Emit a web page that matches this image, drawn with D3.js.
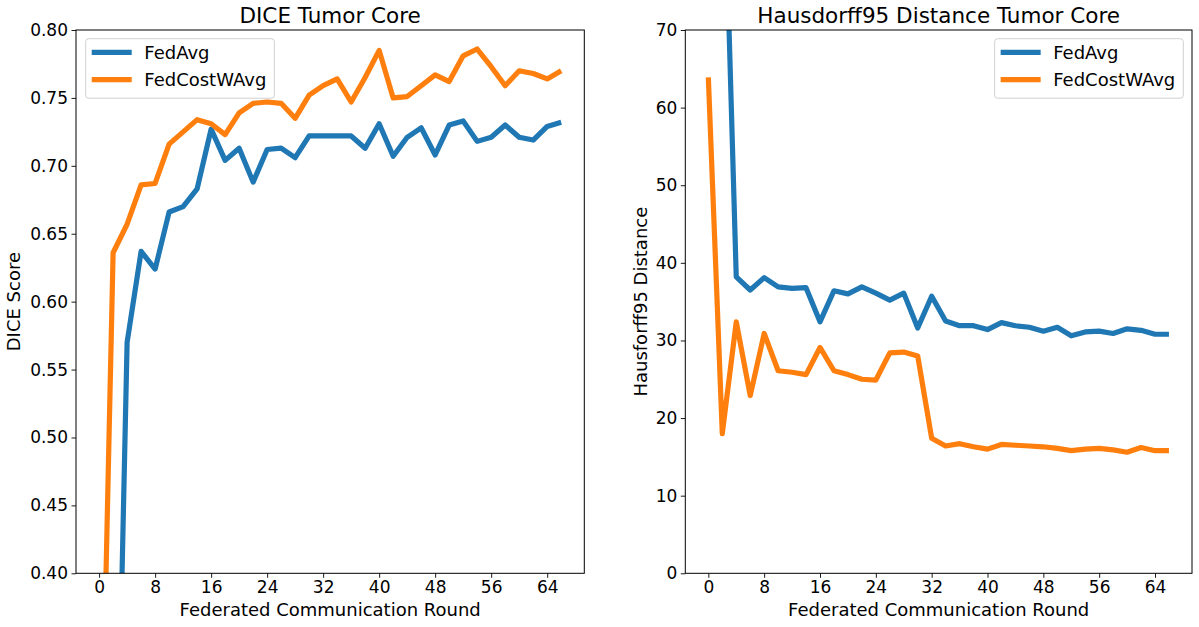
<!DOCTYPE html>
<html>
<head>
<meta charset="utf-8">
<script src="https://cdn.jsdelivr.net/npm/d3@7"></script>
<style>
  body { margin: 0; background: #fff; }
  svg { display: block; font-family: "DejaVu Sans", sans-serif; }
</style>
</head>
<body>
<div id="chart"></div>
<script>
// rounds of federated training (every 2nd round)
var rounds = [0, 2, 4, 6, 8, 10, 12, 14, 16, 18, 20, 22, 24, 26, 28, 30, 32,
    34, 36, 38, 40, 42, 44, 46, 48, 50, 52, 54, 56, 58, 60, 62, 64, 66]

var diceFedAvg = [0.05, 0.10, 0.570, 0.637, 0.624, 0.666, 0.670, 0.683, 0.727, 0.704,
    0.713, 0.688, 0.712, 0.713, 0.706, 0.722, 0.722, 0.722, 0.722, 0.713, 0.731, 0.707,
    0.721, 0.728, 0.708, 0.730, 0.733, 0.718, 0.721, 0.730, 0.721, 0.719, 0.729, 0.732]
var diceFedCostWAvg = [0.17, 0.636, 0.657, 0.686, 0.687, 0.716, 0.725, 0.734, 0.731, 0.723,
    0.739, 0.746, 0.747, 0.746, 0.735, 0.752, 0.759, 0.764, 0.747, 0.765, 0.785, 0.750,
    0.751, 0.759, 0.767, 0.762, 0.781, 0.786, 0.773, 0.759, 0.770, 0.768, 0.764, 0.770]

var hdFedAvg = [110, 100, 38.2, 36.5, 38.1, 36.9, 36.7, 36.8, 32.4, 36.4, 36.0, 36.9,
    36.1, 35.2, 36.1, 31.6, 35.7, 32.5, 31.9, 31.9, 31.4, 32.3, 31.9, 31.7, 31.2, 31.7,
    30.6, 31.1, 31.2, 30.9, 31.5, 31.3, 30.8, 30.8]
var hdFedCostWAvg = [63.9, 18.0, 32.4, 22.9, 30.9, 26.1, 25.9, 25.6, 29.1, 26.1, 25.6,
    25.0, 24.9, 28.4, 28.5, 28.0, 17.4, 16.4, 16.7, 16.3, 16.0, 16.6, 16.5, 16.4, 16.3,
    16.1, 15.8, 16.0, 16.1, 15.9, 15.6, 16.2, 15.8, 15.8]

var xTicks = [0, 8, 16, 24, 32, 40, 48, 56, 64]
var diceTicks = [0.40, 0.45, 0.50, 0.55, 0.60, 0.65, 0.70, 0.75, 0.80]
var hdTicks = [0, 10, 20, 30, 40, 50, 60, 70]
var seriesNames = ["FedAvg", "FedCostWAvg"]

const colors = ["#1f77b4", "#ff7f0e"]
const width = 1199, height = 627
const plotTop = 30, plotBottom = 573.3

const svg = d3.select("#chart").append("svg")
    .attr("width", width)
    .attr("height", height)

function panel(opts) {
    const x = d3.scaleLinear().domain([-3.3, 69.3]).range([opts.left, opts.right])
    const y = d3.scaleLinear().domain(opts.yDomain).range([plotBottom, plotTop])
    const g = svg.append("g")

    g.append("clipPath").attr("id", opts.id)
        .append("rect")
        .attr("x", opts.left).attr("y", plotTop)
        .attr("width", opts.right - opts.left).attr("height", plotBottom - plotTop)

    // lines
    const line = d3.line().x((d, i) => x(rounds[i])).y(d => y(d))
    opts.series.forEach((s, k) => {
        g.append("path")
            .datum(s)
            .attr("clip-path", `url(#${opts.id})`)
            .attr("fill", "none")
            .attr("stroke", colors[k])
            .attr("stroke-width", 5.2)
            .attr("stroke-linejoin", "round")
            .attr("d", line)
    })

    // axes
    const xAxis = g.append("g")
        .attr("transform", `translate(0,${plotBottom})`)
        .call(d3.axisBottom(x).tickValues(xTicks).tickSize(4.5).tickPadding(3.5))
    const yAxis = g.append("g")
        .attr("transform", `translate(${opts.left},0)`)
        .call(d3.axisLeft(y).tickValues(opts.yTicks).tickFormat(opts.fmt).tickSize(4.5).tickPadding(3.5))
    for (const a of [xAxis, yAxis]) {
        a.select(".domain").remove()
        a.selectAll("text").attr("font-size", 17).attr("fill", "#000")
            .attr("font-family", "DejaVu Sans")
        a.selectAll("line").attr("stroke", "#000").attr("stroke-width", 0.9)
    }

    // frame
    g.append("rect")
        .attr("x", opts.left).attr("y", plotTop)
        .attr("width", opts.right - opts.left).attr("height", plotBottom - plotTop)
        .attr("fill", "none").attr("stroke", "#000").attr("stroke-width", 1)

    g.append("text")
        .attr("x", (opts.left + opts.right) / 2).attr("y", 22.5)
        .attr("text-anchor", "middle").attr("font-size", 21.5)
        .text(opts.title)

    g.append("text")
        .attr("x", (opts.left + opts.right) / 2).attr("y", 615.5)
        .attr("text-anchor", "middle").attr("font-size", 18)
        .text("Federated Communication Round")

    g.append("text")
        .attr("transform", `translate(${opts.ylabelX},${(plotTop + plotBottom) / 2}) rotate(-90)`)
        .attr("text-anchor", "middle").attr("dy", "0.35em").attr("font-size", 18)
        .text(opts.ylabel)

    // legend
    const lg = g.append("g")
    const box = lg.append("rect")
        .attr("fill", "#fff").attr("fill-opacity", 0.8)
        .attr("stroke", "#d0d0d0").attr("stroke-width", 1)
        .attr("rx", 3)
    let textW = 0
    seriesNames.forEach((name, k) => {
        const yy = 13.7 + k * 27.3
        lg.append("line")
            .attr("x1", 6).attr("x2", 46).attr("y1", yy).attr("y2", yy)
            .attr("stroke", colors[k]).attr("stroke-width", 5.2)
        const t = lg.append("text")
            .attr("x", 58.6).attr("y", yy).attr("dy", "0.35em")
            .attr("font-size", 18).text(name)
        textW = Math.max(textW, t.node().getComputedTextLength())
    })
    const boxW = 58.6 + textW + 8
    box.attr("width", boxW).attr("height", 59.5)
    const lx = opts.legendLeft ? opts.left + 9.7 : opts.right - 8.7 - boxW
    lg.attr("transform", `translate(${lx},${plotTop + 8.7})`)
}

panel({
    id: "clipDice", left: 76, right: 584.3,
    yDomain: [0.40, 0.80], yTicks: diceTicks, fmt: d3.format(".2f"),
    series: [diceFedAvg, diceFedCostWAvg],
    title: "DICE Tumor Core", ylabel: "DICE Score", ylabelX: 14, legendLeft: true
})
panel({
    id: "clipHd", left: 685.3, right: 1192,
    yDomain: [0, 70], yTicks: hdTicks, fmt: d3.format("d"),
    series: [hdFedAvg, hdFedCostWAvg],
    title: "Hausdorff95 Distance Tumor Core", ylabel: "Hausforff95 Distance", ylabelX: 640.5, legendLeft: false
})
</script>
</body>
</html>
